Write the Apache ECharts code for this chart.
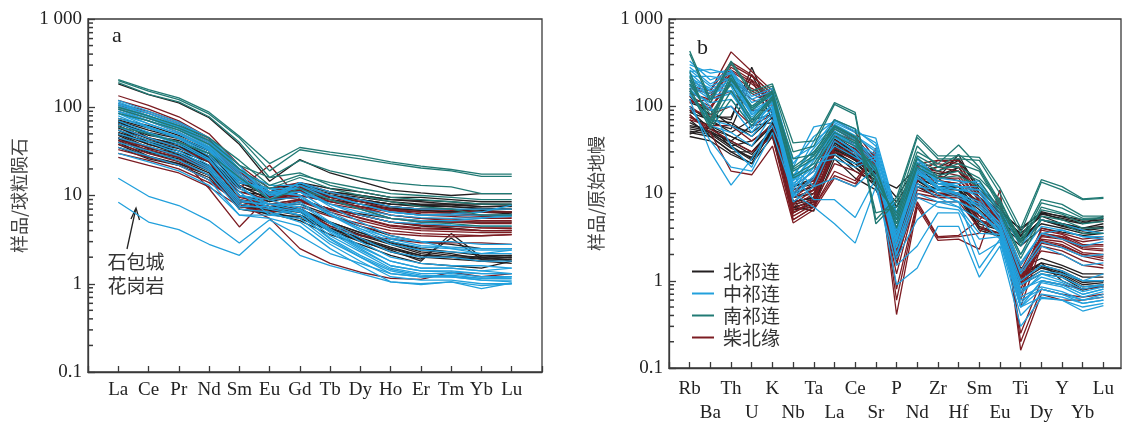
<!DOCTYPE html>
<html><head><meta charset="utf-8">
<script src="https://cdn.jsdelivr.net/npm/echarts@6/dist/echarts.min.js"></script>
<style>html,body{margin:0;padding:0;background:#fff}#c{width:1123px;height:425px}</style>
</head><body><div id="c"></div>
<script>
// ---------- categories / labels ----------
const reeElements = ['La','Ce','Pr','Nd','Sm','Eu','Gd','Tb','Dy','Ho','Er','Tm','Yb','Lu'];
const spiderElements = ['Rb','Ba','Th','U','K','Nb','Ta','La','Ce','Sr','P','Nd','Zr','Hf','Sm','Eu','Ti','Dy','Y','Yb','Lu'];
const groupNames = ['北祁连','中祁连','南祁连','柴北缘'];
const groupColors = ['#231f20','#22a0dc','#217a74','#7c1c22'];
const yTickLabels = ['0.1','1','10','100','1 000'];
const minorTickValues = [0.2,0.3,0.4,0.5,0.6,0.7,0.8,0.9,2,3,4,5,6,7,8,9,20,30,40,50,60,70,80,90,200,300,400,500,600,700,800,900];

// ---------- chart a: chondrite-normalised REE ----------
const reeNorth = [
 [184,139,112,76,38,14.5,25.5,18,14.5,11.5,10.7,10,10.5,10.5],
 [75,62,48,35,18,11,14,12,11,9.5,9.5,9,8.5,8.5],
 [70,55,45,32,16,10.5,13,11,10,9,8.8,8.5,8,8],
 [65,48,42,30,15,9.5,12.5,10.5,9.5,8.5,8,8,7.5,7.5],
 [60,45,38,28,14,10,12,10,9,8,7.5,7.5,7,7],
 [55,42,35,26,13,9,11.5,9.5,8.5,7.5,7,7,6.8,6.5],
 [50,38,32,24,12,8.5,11,9,8,7.2,6.8,6.5,6.5,6.2],
 [45,35,30,22,11,10,11.5,9.5,8.5,7.5,7,7,6.5,6.5],
 [65,52,44,32,15,12,13.5,11,10,9,8.5,8,8,7.8],
 [70,45,38,28,9,8,7,5,3.8,3,2.4,2.2,1.9,2],
 [60,40,32,24,8,7,6.5,4.5,3.5,2.8,2.2,2,2,2],
 [55,38,30,22,7.5,7,6,4.2,3.2,2.5,2.1,2,1.8,1.9],
 [50,35,28,20,7,6.5,5.5,4,3,2.4,1.8,3.7,2,1.8],
 [45,32,27,19,8,6,5.8,4,3.1,2.3,1.9,3.3,1.9,2],
 [42,30,25,18,7,6.2,5.2,3.6,2.8,2.1,1.7,1.6,1.5,1.8],
 [40,28,23,17,8,7,6.5,4.2,3.2,2.5,2,1.9,1.8,1.7],
 [65,50,40,28,10,8,9,7,6,5,4.5,4.3,4,4],
 [52,40,34,25,12.5,10.5,12,10,9,8,7.8,7.5,7.2,7],
 [38,27,23,17,9,7.5,8,6,4.5,3.5,3,2.8,2.5,2.5],
 [72,58,46,33,14,11,12.5,10,9,8,7.8,7.8,7.5,7.6],
 [58,44,36,27,10,8.5,10,8.5,7.5,6.8,6.5,6.3,6,6],
 [48,34,29,21,8.5,7.5,7,5,3.8,3,2.5,2.3,2.1,2.1],
 [62,44,36,26,8.5,7.5,6.8,4.8,3.6,2.9,2.3,2.1,2,2.1],
 [44,31,26,19,7.5,6.8,6,4.3,3.3,2.6,2.1,2,1.9,1.9],
 [68,50,40,30,13,9,11,9,8,7,6.8,6.6,6.5,6.4],
 [35,26,22,16,8,7,8.5,7,6.2,5.5,5.2,5,5,5]
];
const reeCentral = [
 [120,90,68,45,20,11,12,7.5,5,3.5,3,3,2.8,2.8],
 [110,80,60,40,18,10,11,6.5,4.5,3.2,2.7,2.6,2.5,2.5],
 [100,75,55,36,16,9,9.5,6,4,2.8,2.4,2.3,2.2,2.2],
 [95,70,52,35,14,12,12,8,6,5,4.8,4.6,4.5,4.5],
 [90,65,50,33,13,7,8.5,5,3.3,2.3,2,2,1.8,1.8],
 [85,60,45,30,12,8,8,4.8,3,2,1.7,1.6,1.6,1.5],
 [80,58,44,28,11,6,7,4.2,2.7,1.8,1.5,1.5,1.4,1.3],
 [70,52,40,26,10,8,7.5,4,2.5,1.6,1.4,1.4,1.3,1.3],
 [60,45,35,22,9,7.5,6.5,3.5,2.3,1.5,1.3,1.3,1.2,1.2],
 [50,40,30,20,8,7,6,3.2,2,1.4,1.2,1.2,1.1,1.1],
 [40,32,25,17,7,6.5,5,2.8,1.8,1.2,1.1,1.1,1,1],
 [35,28,22,15,6,5.5,4.5,2.5,1.6,1.05,1,1.05,0.88,1.02],
 [30,24,19,13,6,6,5.5,3,2,1.3,1.2,1.2,1.1,1.05],
 [15.7,9.8,7.7,5.2,2.9,5.3,3.5,2.2,1.7,1.3,1.2,1.25,1.15,1.2],
 [8.4,5,4.1,2.8,2.1,4.3,2.1,1.6,1.3,1.05,0.98,1.05,0.95,1.0],
 [100,80,60,42,20,10,14,11,9,7.5,7,7,7,7],
 [90,70,55,38,17,9,13,10,8,6.5,6,6,6,6],
 [115,85,65,45,22,9,14,10,8,6.5,6,6.2,6.5,7.8],
 [75,60,46,32,14,12,10,6,4.2,3.3,3,2.5,2.2,2.4],
 [105,78,58,38,15,11,10,6.2,4.2,3,2.6,2.5,2.4,2.4],
 [65,50,38,25,10,9,7,4,2.6,1.8,1.5,1.5,1.4,1.5],
 [55,42,32,21,8.5,8,6.8,3.8,2.4,1.6,1.4,1.35,1.3,1.3],
 [45,36,28,19,7.5,7.5,6,3.3,2.1,1.45,1.25,1.2,1.15,1.15],
 [85,65,50,34,15,10.5,11,8,6.5,5.5,5.2,5.2,5.5,6],
 [110,85,62,42,19,13,13,9,7,6,5.6,5.5,5.6,5.8]
];
const reeSouth = [
 [206,158,128,88,47,23,35,31,28,24,21.5,19.7,17.5,17.5],
 [200,152,122,84,45,19,33,29,26,23,20.5,19,16.5,16.5],
 [190,140,115,78,40,16,25,19,16,14,13,12.5,10.5,10.5],
 [100,80,62,45,25,13,17,14,12,10.5,10,9.5,9,9],
 [95,75,58,42,22,16,18,13,11,9.5,9,8.5,8,8],
 [85,70,55,38,20,12,16,12,10,8.5,7.5,7,6,6],
 [60,50,40,30,16,9,12,9,7,5.5,5,4.8,4.5,4.5]
];
const reeQaidam = [
 [135,105,78,50,22,12,14,11,9,7.5,7,6.8,6.5,6.5],
 [120,95,70,45,20,11,13,10,8.5,7,6.5,6.3,6,6],
 [105,85,65,42,18,10,12,9,7.5,6.5,6,5.8,5.5,5.5],
 [95,75,58,38,16,9,11,8,7,5.5,5,5,4.8,4.8],
 [42,35,28,21,11,9,10,8.5,7.5,6,5.5,5.2,5,5],
 [38,30,24,17,9.5,8,9,7,6,5,4.6,4.5,4.3,4.3],
 [30,25,20,14,8.5,7,8.5,6.5,5.2,4.3,4,3.9,3.8,3.8],
 [27,22,18,12.5,7.5,6.5,7.5,5.8,4.8,4,3.7,3.6,3.5,3.6],
 [45,36,28,12,4.4,10,9,7,5.5,4.5,4.2,4.1,4,4],
 [40,33,27,20,12,22,9,7,6,5,4.6,4.5,4.3,4.2],
 [35,28,22,15,8,5.5,2.5,1.7,1.35,1.15,1.12,1.35,1.2,1.3],
 [60,45,35,24,10,7,7,4.5,3.5,3.2,2.9,2.9,2.9,2.8],
 [110,90,68,44,19,10,12.5,9.5,8,6.8,6.2,6,5.8,5.7],
 [100,80,60,40,17,9.5,11.5,8.5,7.2,6,5.5,5.4,5.2,5.2],
 [33,27,22,15,9,7.5,8.8,6.8,5.6,4.6,4.3,4.2,4,4],
 [90,70,52,35,15,10,10,6,4.5,3.7,3.5,3.4,3.5,3.6]
];

// ---------- chart b: primitive-mantle-normalised spider ----------
// Rb Ba Th U K Nb Ta La Ce Sr P Nd Zr Hf Sm Eu Ti Dy Y Yb Lu
const spiderNorth = [
 [120,80,70,280,80,10,12,35,25,15,11.5,20,15,28,10,6,4,6,5,4.5,5.5],
 [100,65,55,200,70,9,10,30,22,14,8,18,14,20,9,5.5,3.5,5.5,4.5,4,4.5],
 [90,55,40,60,65,8,9,32,20,12,6,15,12,12,8,5,3,5,4.2,3.7,4],
 [80,50,35,40,60,7,8,28,18,13,5,14,11,11,7,4.5,2.8,4.5,4,3.5,3.8],
 [70,45,30,22,55,6.5,7,25,15,11,4,12,10,10,6.5,4,2.5,4,3.6,3.3,3.5],
 [55,50,35,25,50,7,6.3,40,30,16,3.5,16,13,12,5,4,1.2,1.5,1.3,1,1],
 [50,45,30,30,50,8,9,35,25,15,3,14,10,10,4,3.5,1,1.4,1.2,0.9,0.95],
 [45,40,28,22,45,6,8,30,22,14,2.5,12,9,9,3.8,3.2,0.9,1.2,1.1,0.8,0.85],
 [60,55,45,35,60,9,11,45,32,18,4,18,14,13,5.5,4.5,1.4,1.8,1.5,1.2,1.2],
 [110,90,60,50,75,12,15,38,27,18,7,18,20,25,12,7,3.2,6,5.5,5,5.2],
 [65,50,40,30,55,8,9,33,24,16,3.2,15,12,11,4.5,3.8,1.1,1.6,1,0.78,0.9],
 [85,70,50,70,80,10,12,36,26,17,6,17,16,20,9,6,2.8,5,4.5,4,4.2],
 [75,60,45,35,65,8,9,30,20,14,5,14,11,12,7.5,5,3,5,4.3,3.8,4.1],
 [95,70,65,45,75,11,13,40,28,16,7,19,17,18,10,6,3.3,5.8,5.2,4.6,4.8],
 [52,48,33,26,48,7,8,34,25,15,3.2,14,11,10,4.2,3.5,1.1,1.45,1.25,0.95,1],
 [58,52,38,28,52,7.5,8.5,38,27,16,3.8,15,12,11,4.8,3.9,1.2,1.6,1.4,1.1,1.1],
 [48,60,34,24,55,6.5,7.5,32,24,13,2.8,13,10,9.5,4,3.3,0.95,1.3,1.15,0.85,0.9],
 [130,75,75,230,85,12,14,42,30,17,9,21,18,24,11,6.5,3.8,6.2,5.4,4.8,5]
];
const spiderCentral = [
 [330,200,250,120,150,20,58,65,50,43,6,25,14,12,12,6,1.5,3.5,3,2.5,2.8],
 [250,265,230,100,130,15,40,60,45,30,5,22,13,11,10,5,1.2,2.5,2,1.5,1.6],
 [220,220,200,90,120,12,30,55,40,25,4,20,12,10,8,4.5,1,1.5,1.3,1,1],
 [200,150,180,80,110,10,20,50,35,20,3.5,18,11,9,7,4,0.8,1,0.9,0.7,0.8],
 [180,130,150,70,100,9,15,45,30,18,3,15,10,8,6,3.5,0.6,0.8,0.7,0.55,0.6],
 [150,110,120,60,90,8,12,40,28,16,2.5,13,9,7,5,3,0.5,0.65,0.6,0.45,0.52],
 [120,30,12.5,25,60,16,8.5,8.5,5.3,15,0.9,1.4,4.2,4.2,1.1,2.5,0.3,0.63,0.6,0.5,0.55],
 [100,40,20,18,50,10,7,4.5,2.7,12,1.5,2.5,6,6,1.4,3,0.5,0.8,0.7,0.6,0.7],
 [280,180,240,110,140,25,35,70,55,35,5.5,25,13,13,14,6.5,2.5,5,4.5,3.8,3.5],
 [160,90,100,50,95,12,18,35,26,20,2,12,11,10,6,3.8,0.7,1.2,1,0.8,0.9],
 [230,120,220,80,125,18,25,58,42,22,3,20,14,12,9,4,0.9,1.3,1.2,1,1.2],
 [140,60,50,35,80,14,22,25,20,25,2,9,7,6.5,3,3.2,0.5,1,0.9,0.7,0.8],
 [190,140,170,55,110,14,28,48,38,28,4.5,18,12,11,11,5,1.6,3.5,3.8,3.2,3],
 [170,100,35,20,70,20,12,15,12,20,1.8,5,8,8,2,2.8,0.4,0.7,0.65,0.55,0.6],
 [260,170,210,95,135,16,33,62,46,32,5,23,13,12,11,5.5,1.3,2.8,2.4,1.9,2],
 [210,160,190,85,115,11,24,52,37,22,3.8,19,11.5,9.5,7.5,4.2,0.9,1.2,1.1,0.85,0.9],
 [175,120,140,65,100,9.5,16,44,31,19,3.2,16,10,8,6.2,3.6,0.65,0.85,0.75,0.6,0.65],
 [300,240,260,130,160,22,45,68,52,38,6,26,15,14,13,6,2,4.2,3.8,3.2,3.2],
 [240,150,150,75,120,13,20,48,34,20,2.8,17,12,10,7,4,0.75,1.1,0.95,0.75,0.85],
 [135,70,60,45,85,15,25,28,22,27,2.4,10,8,7,3.5,3.4,0.55,0.95,0.85,0.65,0.75]
];
const spiderSouth = [
 [430,120,330,150,180,38,40,110,85,5,9,47,27,27,26,11.5,4,14.4,12,8.7,9],
 [400,110,310,140,170,30,35,105,80,4.5,8,44,25,25,24,10,3.5,13.5,11,8.5,8.8],
 [250,60,200,100,150,20,30,60,45,12,6,30,22,36,20,8,3,8.5,7.5,5.5,5.5],
 [200,70,230,90,140,18,25,55,40,15,5,25,18,22,18,7,2.5,7,6,5,5.2],
 [150,55,120,60,120,15,20,45,35,20,4,20,15,16,12,6,1.8,5,4.5,3.5,3.5],
 [180,80,180,70,130,25,28,70,55,6,7,35,20,20,15,8.5,2.8,6.5,5.8,4.5,4.8],
 [220,65,210,95,145,19,27,58,43,14,5.5,27,20,28,19,7.5,2.7,7.8,6.8,5.2,5.3],
 [160,60,150,65,125,16,22,50,38,18,4.5,22,16,18,14,6.5,2,5.5,5,4,4]
];
const spiderQaidam = [
 [200,150,420,250,150,12,18,70,50,25,3,22,24,22,10,6,1.5,3.5,3.2,2.5,2.5],
 [180,130,300,220,140,10,15,60,45,22,2.5,20,22,20,9,5.5,1.2,3.2,3,2.3,2.2],
 [150,110,280,200,130,8,12,50,40,20,2,17,20,18,8,5,1,3,2.8,2.1,2],
 [120,90,250,180,120,7,10,40,33,18,1.5,14,15,15,7,4.5,0.8,2.8,2.5,2,1.8],
 [100,70,200,150,110,6,8,30,25,16,1.2,10,9,9,5,4,0.5,2.5,2.2,1.7,1.5],
 [80,50,18,16.4,35,4.6,6.5,15,12,33,0.41,7,2.9,3,2.3,11,0.16,0.7,0.6,0.6,0.65],
 [70,60,60,40,60,5,7,18,14,30,0.8,8,3.2,3.3,5,8,0.25,1,0.9,0.8,0.85],
 [90,80,100,60,80,5.5,7.5,22,18,14,1.8,9,8,8,4,3.5,0.6,3.5,3.2,2.8,3],
 [130,100,180,120,100,6.5,9,35,30,20,2.2,12,10,10,6,4.5,0.9,4,3.5,3,3.2],
 [110,120,150,90,90,9,11,45,35,24,3.5,16,24,24,8,6,1.3,3.8,3.4,2.6,2.6],
 [160,140,230,160,120,11,14,55,42,21,4,18,16,14,9,5.2,1.1,2.2,2,1.5,1.4],
 [170,150,320,230,135,9,13,58,44,23,2.8,19,18,16,8.5,5.3,1.1,3.3,3.1,2.4,2.3],
 [140,120,260,190,125,7.5,11,46,37,19,1.8,15,14,13,7.5,4.8,0.9,2.9,2.6,2,1.9],
 [75,55,40,30,45,5,7,16,13,28,0.6,7.5,3.1,3.2,3.5,9,0.2,0.8,0.7,0.65,0.7],
 [115,95,190,140,105,6,8.5,33,28,18,1.6,11,9.5,9.5,5.5,4.2,0.7,2.7,2.4,1.9,1.7]
];

// ---------- build ----------
const serif = 'Liberation Serif';
const cjk = 'Noto Sans CJK SC';
const axisCol = '#3a3a3a';

function groupSeries(groups, axisIdx){
  const out = [];
  const order = [0,3,1,2]; // draw: north, qaidam, central, south
  order.forEach((g, k) => {
    groups[g].forEach(row => {
      out.push({
        type:'line', name: groupNames[g], xAxisIndex: axisIdx, yAxisIndex: axisIdx,
        data: row.map((v,i) => [i+1, v]),
        symbol:'none', showSymbol:false, silent:true, z: 2 + k,
        lineStyle:{color: groupColors[g], width: 1.3},
        itemStyle:{color: groupColors[g]},
        emphasis:{disabled:true}
      });
    });
  });
  return out;
}
function minorTicks(axisIdx){
  return {
    type:'scatter', xAxisIndex: axisIdx, yAxisIndex: axisIdx, silent:true, clip:false, z: 10,
    data: minorTickValues.map(v => [0, v]),
    symbol:'rect', symbolSize:[5, 1.5], symbolOffset:[2.5, 0],
    itemStyle:{color: axisCol, opacity:1},
    emphasis:{disabled:true}
  };
}
function yAxisDef(idx, name, gap){
  return {
    type:'log', logBase:10, min:0.1, max:1000, gridIndex: idx,
    name, nameLocation:'middle', nameGap: gap, nameRotate: 90,
    nameTextStyle:{fontFamily: cjk, fontSize: 18, color:'#444'},
    axisLine:{show:true, lineStyle:{color:axisCol, width:1.3}},
    axisTick:{show:true, inside:true, length:7, lineStyle:{color:axisCol, width:1.3}},
    splitLine:{show:false}, minorTick:{show:false},
    axisLabel:{fontFamily: serif, fontSize: 19, color:'#222', margin: 6,
      formatter: v => yTickLabels[Math.round(Math.log10(v)) + 1] || ''}
  };
}

const chart = echarts.init(document.getElementById('c'), null, {renderer:'canvas'});
chart.setOption({
  animation:false,
  backgroundColor:'#fff',
  grid:[
    {left:88, top:19, width:454, height:353, show:true, borderColor:axisCol, borderWidth:1.3, backgroundColor:'transparent'},
    {left:669, top:19, width:452, height:353, show:true, borderColor:axisCol, borderWidth:1.3, backgroundColor:'transparent'}
  ],
  xAxis:[
    {type:'value', gridIndex:0, min:0, max:15, interval:1,
     axisLine:{show:true, lineStyle:{color:axisCol, width:1.3}},
     axisTick:{show:true, inside:true, length:6, lineStyle:{color:axisCol, width:1.3}},
     splitLine:{show:false},
     axisLabel:{fontFamily:serif, fontSize:19, color:'#222', margin:9,
       formatter: v => reeElements[v-1] || ''}},
    {type:'value', gridIndex:1, min:0, max:21.85, interval:1,
     axisLine:{show:true, lineStyle:{color:axisCol, width:1.3}},
     axisTick:{show:true, inside:true, length:6, lineStyle:{color:axisCol, width:1.3}},
     splitLine:{show:false},
     axisLabel:{fontFamily:serif, fontSize:19, color:'#222', margin:9, lineHeight:24, showMaxLabel:false,
       formatter: v => { const n = spiderElements[v-1]; if(!n) return ''; return (v % 2 === 1) ? n : '\n' + n; }}}
  ],
  yAxis:[ yAxisDef(0, '样品/球粒陨石', 60), yAxisDef(1, '样品/原始地幔', 64) ],
  legend:{
    data: groupNames, orient:'vertical', left:692, top:262, icon:'rect',
    itemWidth:22, itemHeight:2, itemGap:3, selectedMode:false, padding:0,
    textStyle:{fontFamily:cjk, fontSize:19, color:'#333', padding:[0,0,0,4]}
  },
  graphic:[
    {type:'text', left:112, top:25, style:{text:'a', font:'22px "Liberation Serif"', fill:'#222'}},
    {type:'text', left:697, top:37, style:{text:'b', font:'22px "Liberation Serif"', fill:'#222'}},
    {type:'text', x:136, y:262, style:{text:'石包城', font:'19px "Noto Sans CJK SC"', fill:'#333', align:'center', verticalAlign:'middle'}},
    {type:'text', x:136, y:286, style:{text:'花岗岩', font:'19px "Noto Sans CJK SC"', fill:'#333', align:'center', verticalAlign:'middle'}},
    {type:'polyline', shape:{points:[[127,249],[135.5,210]]}, style:{stroke:'#222', lineWidth:1.3}},
    {type:'polyline', shape:{points:[[131,219],[136,208],[139.5,220]]}, style:{stroke:'#222', lineWidth:1.3, fill:null}}
  ],
  series: [
    ...groupSeries([reeNorth, reeCentral, reeSouth, reeQaidam], 0),
    ...groupSeries([spiderNorth, spiderCentral, spiderSouth, spiderQaidam], 1),
    minorTicks(0), minorTicks(1)
  ]
});
</script></body></html>
